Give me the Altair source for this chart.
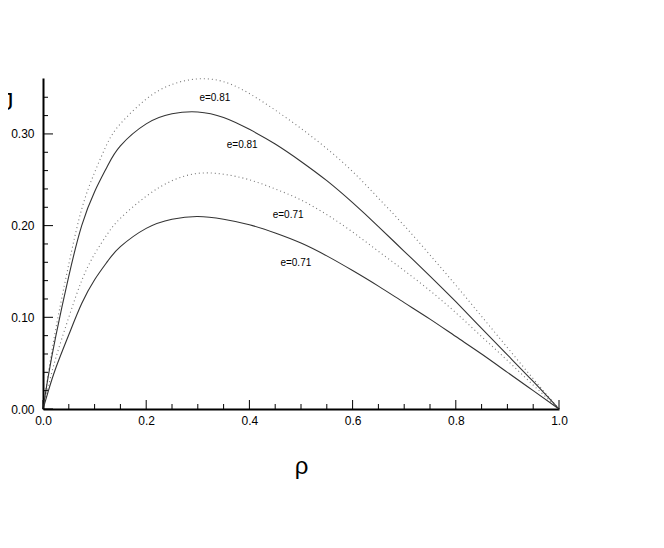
import altair as alt
import pandas as pd

# x positions (rho) shared by all four curves
rho = [0, 0.01, 0.025, 0.05, 0.075, 0.1, 0.125, 0.15, 0.2, 0.25, 0.3, 0.35, 0.4,
       0.45, 0.5, 0.55, 0.6, 0.65, 0.7, 0.75, 0.8, 0.85, 0.9, 0.95, 1.0]

solid_081 = [0, 0.035, 0.08, 0.145, 0.2, 0.237, 0.265, 0.287, 0.311, 0.322, 0.324,
             0.318, 0.305, 0.289, 0.27, 0.249, 0.225, 0.199, 0.172, 0.145, 0.117,
             0.088, 0.059, 0.03, 0]
dotted_081 = [0, 0.038, 0.088, 0.158, 0.218, 0.258, 0.29, 0.311, 0.338, 0.354, 0.36,
              0.357, 0.344, 0.326, 0.306, 0.284, 0.259, 0.23, 0.2, 0.168, 0.135,
              0.101, 0.067, 0.033, 0]
dotted_071 = [0, 0.024, 0.056, 0.1, 0.14, 0.169, 0.191, 0.208, 0.232, 0.249, 0.257,
              0.256, 0.25, 0.24, 0.228, 0.212, 0.193, 0.172, 0.151, 0.129, 0.105,
              0.079, 0.053, 0.026, 0]
solid_071 = [0, 0.019, 0.045, 0.081, 0.115, 0.141, 0.161, 0.177, 0.197, 0.207, 0.21,
             0.207, 0.201, 0.192, 0.181, 0.167, 0.151, 0.134, 0.116, 0.098, 0.079,
             0.06, 0.04, 0.02, 0]

label_x = [0.333, 0.386, 0.475, 0.49]
label_y = [0.339, 0.288, 0.2116, 0.159]
label_text = ["e=0.81", "e=0.81", "e=0.71", "e=0.71"]

x_major = [0.0, 0.2, 0.4, 0.6, 0.8, 1.0]
x_minor = [0.05, 0.1, 0.15, 0.25, 0.3, 0.35, 0.45, 0.5, 0.55, 0.65, 0.7, 0.75, 0.85, 0.9, 0.95]
y_major = [0.0, 0.1, 0.2, 0.3]
y_minor = [0.02, 0.04, 0.06, 0.08, 0.12, 0.14, 0.16, 0.18, 0.22, 0.24, 0.26, 0.28, 0.32, 0.34]

FONT = "Liberation Sans"

rows = []
for name, vals, style in [("s081", solid_081, "solid"), ("d081", dotted_081, "dotted"),
                          ("d071", dotted_071, "dotted"), ("s071", solid_071, "solid")]:
    for xv, yv in zip(rho, vals):
        rows.append({"rho": xv, "val": yv, "curve": name, "style": style})
df = pd.DataFrame(rows)

xscale = alt.Scale(domain=[0, 1], nice=False, zero=False)
yscale = alt.Scale(domain=[0, 0.361], nice=False, zero=False)

xaxis = alt.Axis(values=x_major, format=".1f", ticks=False, grid=False, labelFlush=False,
                 domainColor="black", domainWidth=2, labelFont=FONT, labelFontSize=12,
                 labelColor="black", labelPadding=6, title="ρ", titleFont=FONT,
                 titleFontSize=24, titleFontWeight="normal", titlePadding=28,
                 titleColor="black")
yaxis = alt.Axis(values=y_major, format=".2f", ticks=False, grid=False, labelFlush=False,
                 domainColor="black", domainWidth=2, labelFont=FONT, labelFontSize=12,
                 labelColor="black", labelPadding=9, title="J", titleFont=FONT,
                 titleFontSize=24, titleFontWeight="normal", titleAngle=0,
                 titleAlign="right", titleBaseline="middle", titleX=-30, titleY=24,
                 titleColor="black")

solid = alt.Chart(df[df["style"] == "solid"]).mark_line(
    color="#333333", strokeWidth=1.1, interpolate="natural"
).encode(
    x=alt.X("rho:Q", scale=xscale, axis=xaxis),
    y=alt.Y("val:Q", scale=yscale, axis=yaxis),
    detail="curve:N",
)

dotted = alt.Chart(df[df["style"] == "dotted"]).mark_line(
    color="#777777", strokeWidth=1.1, strokeDash=[1, 3], interpolate="natural"
).encode(
    x=alt.X("rho:Q", scale=xscale),
    y=alt.Y("val:Q", scale=yscale),
    detail="curve:N",
)

labels = alt.Chart(pd.DataFrame({"x": label_x, "y": label_y, "t": label_text})).mark_text(
    font=FONT, fontSize=10, color="black"
).encode(x=alt.X("x:Q", scale=xscale), y=alt.Y("y:Q", scale=yscale), text="t:N")

xmaj = alt.Chart(pd.DataFrame({"v": x_major})).mark_rule(color="black", strokeWidth=1).encode(
    x=alt.X("v:Q", scale=xscale), y=alt.value(331), y2=alt.value(322))
xmin = alt.Chart(pd.DataFrame({"v": x_minor})).mark_rule(color="black", strokeWidth=1).encode(
    x=alt.X("v:Q", scale=xscale), y=alt.value(331), y2=alt.value(326))
ymaj = alt.Chart(pd.DataFrame({"v": y_major})).mark_rule(color="black", strokeWidth=1).encode(
    y=alt.Y("v:Q", scale=yscale), x=alt.value(0), x2=alt.value(10))
ymin = alt.Chart(pd.DataFrame({"v": y_minor})).mark_rule(color="black", strokeWidth=1).encode(
    y=alt.Y("v:Q", scale=yscale), x=alt.value(0), x2=alt.value(5))

chart = alt.layer(dotted, solid, labels, xmaj, xmin, ymaj, ymin).properties(
    width=516, height=331,
    autosize=alt.AutoSizeParams(type="none"),
    padding={"left": 35, "top": 70, "right": 60, "bottom": 100},
).configure(background="white").configure_view(stroke=None)

chart.save("out.html", embed_options={"renderer": "svg", "actions": False})
